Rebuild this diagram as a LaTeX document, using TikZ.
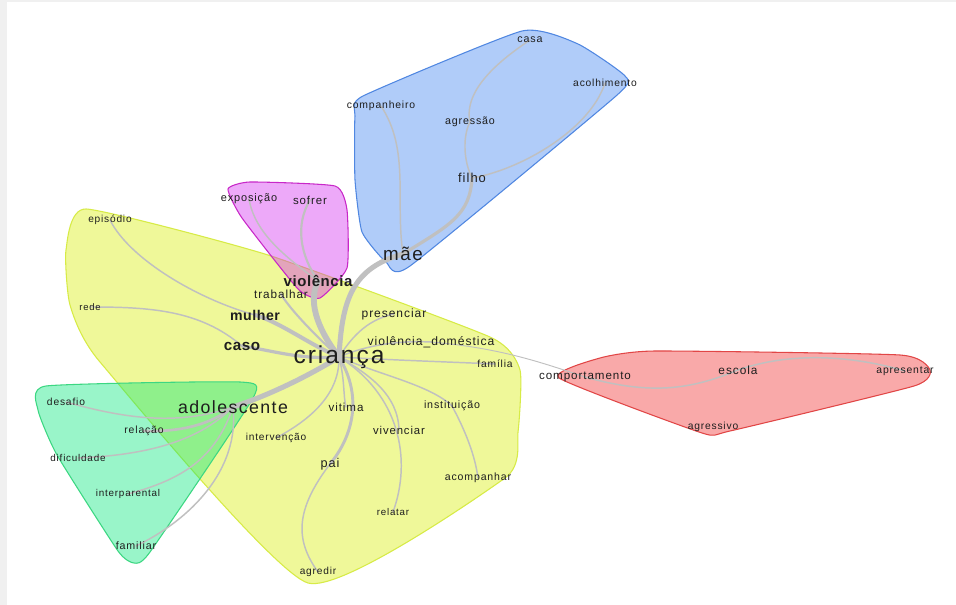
\documentclass[tikz,border=0pt]{standalone}
\usepackage{fontspec}
\setmainfont{Liberation Sans}
\newfontfamily\lbfont[LetterSpace=8]{Liberation Sans}
\newfontfamily\lbbfont[LetterSpace=4]{Liberation Sans Bold}
\definecolor{framegray}{RGB}{240,240,240}
\definecolor{labelcol}{RGB}{30,30,30}
\definecolor{edgegray}{RGB}{192,192,192}
\definecolor{yelbase}{RGB}{220,240,30}
\definecolor{yelline}{RGB}{215,235,70}
\definecolor{grnbase}{RGB}{0,230,120}
\definecolor{grnline}{RGB}{60,215,130}
\definecolor{blubase}{RGB}{30,110,240}
\definecolor{bluline}{RGB}{80,135,225}
\definecolor{pnkbase}{RGB}{210,40,240}
\definecolor{pnkline}{RGB}{200,40,200}
\definecolor{redbase}{RGB}{240,40,40}
\definecolor{redline}{RGB}{225,70,70}
\pgfdeclarelayer{hulllayer}
\pgfdeclarelayer{edgelayer}
\pgfsetlayers{hulllayer,edgelayer,main}
\begin{document}
\begin{tikzpicture}[x=0.75pt,y=-0.75pt,
  lb/.style={font=\lbfont\fontsize{#1pt}{#1pt}\selectfont, text=labelcol, inner sep=0pt},
  lbb/.style={font=\lbbfont\fontsize{#1pt}{#1pt}\selectfont, text=labelcol, inner sep=0pt},
  hull/.style={line width=0.8pt},
  ed/.style={draw=edgegray, line cap=round, line width=#1},
  ed/.default=1.1pt]
\useasboundingbox (0,0) rectangle (956,605);
\begin{pgfonlayer}{hulllayer}
\fill[white] (0,0) rectangle (956,605);
\fill[framegray] (0,0) rectangle (7,605);
\fill[framegray] (0,0) rectangle (956,2);
\path[hull, fill=yelbase, fill opacity=0.45, draw=yelline]
  plot[smooth cycle, tension=0.3] coordinates {(86,209) (268,255) (490,337)
  (520,370) (518,432) (505,478) (308,583) (100,362) (70,305) (66,250)};
\path[hull, fill=grnbase, fill opacity=0.4, draw=grnline]
  plot[smooth cycle, tension=0.3] coordinates {(46,386) (240,382) (253,398)
  (150,552) (134,563) (118,551) (57,455) (38,410)};
\path[hull, fill=pnkbase, fill opacity=0.4, draw=pnkline]
  plot[smooth cycle, tension=0.3] coordinates {(228,189) (250,182) (335,186)
  (347,210) (347,268) (320,298) (298,289) (242,218)};
\path[hull, fill=blubase, fill opacity=0.35, draw=bluline]
  plot[smooth cycle, tension=0.3] coordinates {(363,96) (522,31) (578,44)
  (625,76) (616,96) (410,266) (386,262) (362,232) (355,180) (355,116)};
\path[hull, fill=redbase, fill opacity=0.4, draw=redline]
  plot[smooth cycle, tension=0.3] coordinates {(559,378) (600,358) (655,351)
  (900,355) (930,370) (914,386) (730,431) (702,433)};
\end{pgfonlayer}

% label nodes
\node[lb=18.4] (cr) at (339,357) {criança};
\node[lb=14.1] (mae) at (403,254) {mãe};
\node[lbb=11.2] (vi) at (318,281) {violência};
\node[lb=13.3] (ado) at (233,407) {adolescente};
\node[lbb=10.6] (mu) at (255,315) {mulher};
\node[lbb=11.4] (caso) at (242,346) {caso};
\node[lb=8] (casa) at (530,40) {casa};
\node[lb=7.7] (acol) at (605,83) {acolhimento};
\node[lb=7.8] (comp) at (381,106) {companheiro};
\node[lb=8] (agrs) at (470,122) {agressão};
\node[lb=9.7] (fil) at (472,178) {filho};
\node[lb=8.2] (exp) at (249,199) {exposição};
\node[lb=8.6] (sof) at (310,200) {sofrer};
\node[lb=7.6] (epi) at (110,220) {episódio};
\node[lb=8.8] (tr) at (281,294) {trabalhar};
\node[lb=7.1] (rede) at (90,307) {rede};
\node[lb=9] (pres) at (394,314) {presenciar};
\node[lb=9.1] (vd) at (431,342) {violência\_doméstica};
\node[lb=7.7] (fam) at (495,364) {família};
\node[lb=8.7] (cpt) at (585,377) {comportamento};
\node[lb=8.9] (esc) at (738,370) {escola};
\node[lb=7.8] (apr) at (905,371) {apresentar};
\node[lb=7.7] (agv) at (713,427) {agressivo};
\node[lb=7.7] (des) at (66,402) {desafio};
\node[lb=8.7] (vit) at (346,407) {vitima};
\node[lb=8] (inst) at (452,406) {instituição};
\node[lb=7.8] (rela) at (144,431) {relação};
\node[lb=7.6] (int) at (276,438) {intervenção};
\node[lb=8.5] (viv) at (399,430) {vivenciar};
\node[lb=7.4] (dif) at (78,458) {dificuldade};
\node[lb=9.5] (pai) at (330,464) {pai};
\node[lb=7.9] (acp) at (478,478) {acompanhar};
\node[lb=7.4] (inp) at (128,494) {interparental};
\node[lb=7.3] (rlt) at (393,512) {relatar};
\node[lb=8] (fml) at (136,546) {familiar};
\node[lb=7.6] (agd) at (318,572) {agredir};

% edges (behind labels)
\begin{pgfonlayer}{edgelayer}
\draw[ed=3.8pt] (cr.center) .. controls (342,300) and (352,268) .. (mae.center);
\draw[ed=4.4pt] (cr.center) .. controls (322,335) and (306,305) .. (vi.center);
\draw[ed=3.8pt] (cr.center) .. controls (310,375) and (270,395) .. (ado.center);
\draw[ed=3pt] (cr.center) .. controls (310,345) and (280,322) .. (mu.center);
\draw[ed=2.4pt] (cr.center) .. controls (300,360) and (270,350) .. (caso.center);
\draw[ed=1.6pt] (cr.center) .. controls (320,340) and (290,310) .. (tr.center);
\draw[ed] (cr.center) .. controls (350,340) and (365,320) .. (pres.center);
\draw[ed] (cr.center) .. controls (360,348) and (390,340) .. (vd.center);
\draw[ed=0.7pt] (vd.center) .. controls (500,348) and (540,362) .. (cpt.center);
\draw[ed] (cr.center) .. controls (390,360) and (450,362) .. (fam.center);
\draw[ed] (cr.center) .. controls (380,375) and (430,385) .. (inst.center);
\draw[ed] (inst.center) .. controls (465,430) and (475,455) .. (acp.center);
\draw[ed] (cr.center) .. controls (370,375) and (398,395) .. (viv.center);
\draw[ed] (cr.center) .. controls (400,395) and (412,460) .. (rlt.center);
\draw[ed] (cr.center) .. controls (345,380) and (343,395) .. (vit.center);
\draw[ed=2.2pt] (cr.center) .. controls (365,400) and (350,440) .. (pai.center);
\draw[ed] (pai.center) .. controls (295,510) and (295,540) .. (agd.center);
\draw[ed] (cr.center) .. controls (340,400) and (300,425) .. (int.center);
\draw[ed] (vi.center) .. controls (290,260) and (255,235) .. (exp.center);
\draw[ed=1.6pt] (vi.center) .. controls (300,255) and (295,225) .. (sof.center);
\draw[ed] (mu.center) .. controls (200,300) and (130,260) .. (epi.center);
\draw[ed] (caso.center) .. controls (200,310) and (150,307) .. (rede.center);
\draw[ed=2.4pt] (mae.center) .. controls (450,225) and (470,215) .. (fil.center);
\draw[ed] (mae.center) .. controls (395,200) and (410,150) .. (comp.center);
\draw[ed] (fil.center) .. controls (463,160) and (463,135) .. (agrs.center);
\draw[ed] (agrs.center) .. controls (463,90) and (500,60) .. (casa.center);
\draw[ed] (fil.center) .. controls (520,170) and (590,130) .. (acol.center);
\draw[ed] (ado.center) .. controls (180,425) and (130,420) .. (des.center);
\draw[ed=2pt] (ado.center) .. controls (210,425) and (180,432) .. (rela.center);
\draw[ed] (ado.center) .. controls (200,440) and (150,455) .. (dif.center);
\draw[ed] (ado.center) .. controls (215,460) and (180,480) .. (inp.center);
\draw[ed] (ado.center) .. controls (240,470) and (190,520) .. (fml.center);
\draw[ed] (cpt.center) .. controls (650,395) and (690,390) .. (esc.center);
\draw[ed] (esc.center) .. controls (790,352) and (850,355) .. (apr.center);
\end{pgfonlayer}
\end{tikzpicture}
\end{document}
